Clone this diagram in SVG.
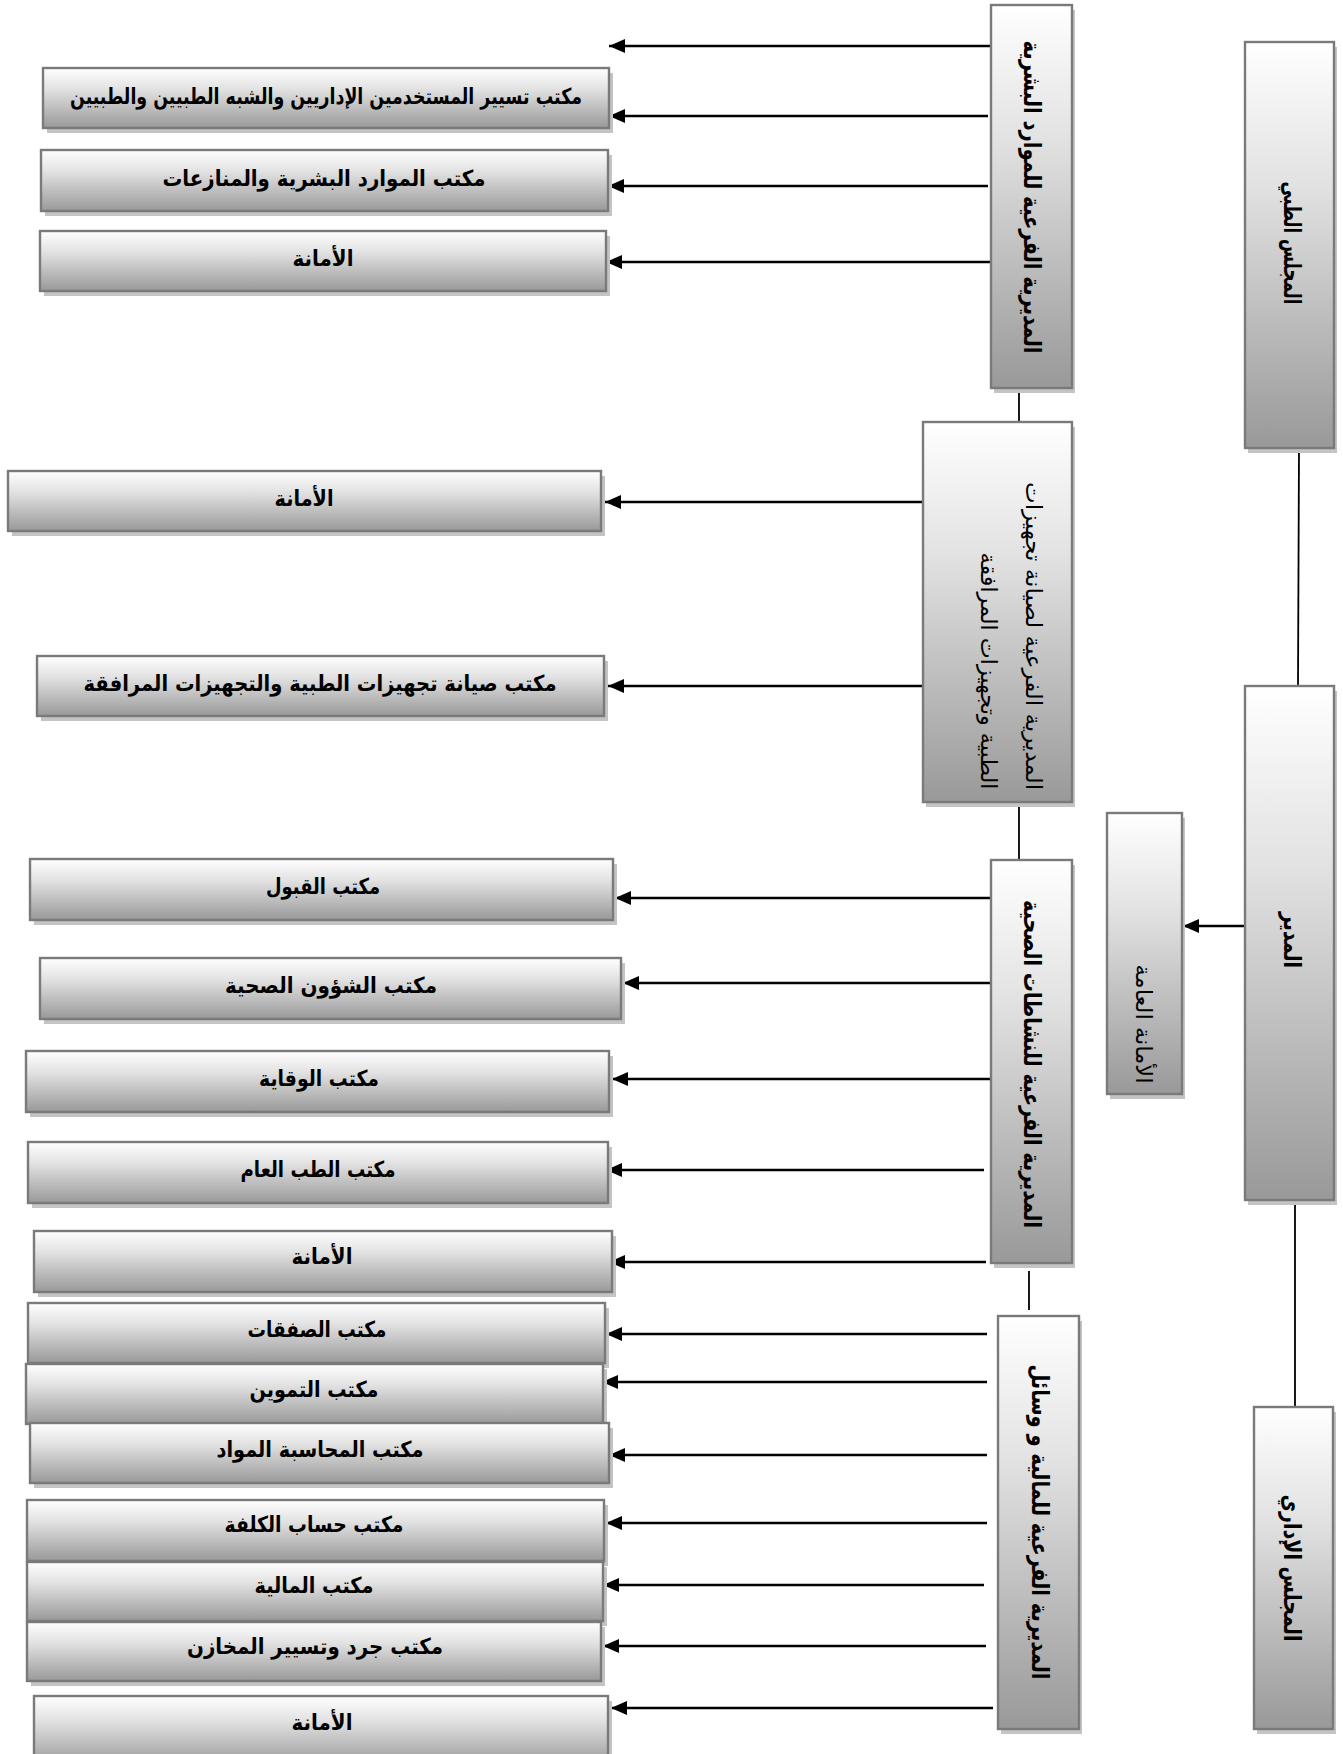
<svg xmlns="http://www.w3.org/2000/svg" width="1343" height="1754" viewBox="0 0 1343 1754">
<defs>
<linearGradient id="g" x1="0" y1="0" x2="0" y2="1">
<stop offset="0" stop-color="#ffffff"/>
<stop offset="0.35" stop-color="#e2e2e2"/>
<stop offset="1" stop-color="#999999"/>
</linearGradient>
<marker id="ah" markerUnits="userSpaceOnUse" markerWidth="16" markerHeight="14" refX="16" refY="7" orient="auto">
<path d="M0,0 L16,7 L0,14 z" fill="#000"/>
</marker>
<style>
.sh{fill:#c4c4c4}
.bx{fill:url(#g);stroke:#7a7a7a;stroke-width:2.4}
.t{font-family:"DejaVu Sans","Liberation Sans",sans-serif;font-size:22px;font-weight:bold;fill:#000;text-anchor:middle;dominant-baseline:central}
.tv{font-family:"DejaVu Sans","Liberation Sans",sans-serif;font-size:24px;font-weight:bold;fill:#000;text-anchor:middle;dominant-baseline:central}
.tr{font-family:"DejaVu Sans","Liberation Sans",sans-serif;font-size:22px;font-weight:normal;fill:#000;dominant-baseline:central}
.ar{stroke:#000;stroke-width:2.4;fill:none;marker-end:url(#ah)}
.ln{stroke:#000;stroke-width:1.8;fill:none}
</style>
</defs>
<rect width="1343" height="1754" fill="#fff"/>

<g id="connectors">
<line class="ar" x1="991" y1="46" x2="609" y2="46"/>
<line class="ar" x1="988" y1="116" x2="609" y2="116"/>
<line class="ar" x1="988" y1="186" x2="608" y2="186"/>
<line class="ar" x1="990" y1="262" x2="606" y2="262"/>
<line class="ar" x1="923" y1="502" x2="605" y2="502"/>
<line class="ar" x1="923" y1="686" x2="608" y2="686"/>
<line class="ar" x1="991" y1="898" x2="615" y2="898"/>
<line class="ar" x1="1000" y1="983" x2="623" y2="983"/>
<line class="ar" x1="991" y1="1079" x2="612" y2="1079"/>
<line class="ar" x1="984" y1="1170" x2="606" y2="1170"/>
<line class="ar" x1="986" y1="1262" x2="609" y2="1262"/>
<line class="ar" x1="987" y1="1334" x2="606" y2="1334"/>
<line class="ar" x1="987" y1="1382" x2="602" y2="1382"/>
<line class="ar" x1="987" y1="1455" x2="609" y2="1455"/>
<line class="ar" x1="987" y1="1523" x2="606" y2="1523"/>
<line class="ar" x1="984" y1="1585" x2="603" y2="1585"/>
<line class="ar" x1="986" y1="1646" x2="603" y2="1646"/>
<line class="ar" x1="993" y1="1708" x2="611" y2="1708"/>
<line class="ar" x1="1246" y1="926" x2="1183" y2="926"/>
<line class="ln" x1="1019" y1="388" x2="1019" y2="422"/>
<line class="ln" x1="1019" y1="802" x2="1019" y2="860"/>
<line class="ln" x1="1029" y1="1271" x2="1029" y2="1310"/>
<line class="ln" x1="1299" y1="448" x2="1298" y2="686"/>
<line class="ln" x1="1295" y1="1200" x2="1295" y2="1407"/>
</g>

<g id="b1"><rect class="sh" x="47" y="73" width="566" height="60"/><rect class="bx" x="43" y="68" width="566" height="60"/><text class="t" x="326" y="96" textLength="512" lengthAdjust="spacingAndGlyphs">مكتب تسيير المستخدمين الإداريين والشبه الطبيين والطبيين</text></g>
<g id="b2"><rect class="sh" x="45" y="155" width="567" height="61"/><rect class="bx" x="41" y="150" width="567" height="61"/><text class="t" x="324" y="178" textLength="323" lengthAdjust="spacingAndGlyphs">مكتب الموارد البشرية والمنازعات</text></g>
<g id="b3"><rect class="sh" x="44" y="236" width="566" height="60"/><rect class="bx" x="40" y="231" width="566" height="60"/><text class="t" x="323" y="258" textLength="61" lengthAdjust="spacingAndGlyphs">الأمانة</text></g>
<g id="b4"><rect class="sh" x="12" y="476" width="593" height="60"/><rect class="bx" x="8" y="471" width="593" height="60"/><text class="t" x="304" y="498" textLength="59" lengthAdjust="spacingAndGlyphs">الأمانة</text></g>
<g id="b5"><rect class="sh" x="41" y="661" width="567" height="60"/><rect class="bx" x="37" y="656" width="567" height="60"/><text class="t" x="320" y="683" textLength="473" lengthAdjust="spacingAndGlyphs">مكتب صيانة تجهيزات الطبية والتجهيزات المرافقة</text></g>
<g id="b6"><rect class="sh" x="34" y="864" width="583" height="61"/><rect class="bx" x="30" y="859" width="583" height="61"/><text class="t" x="323" y="886" textLength="114" lengthAdjust="spacingAndGlyphs">مكتب القبول</text></g>
<g id="b7"><rect class="sh" x="44" y="963" width="581" height="61"/><rect class="bx" x="40" y="958" width="581" height="61"/><text class="t" x="331" y="985" textLength="212" lengthAdjust="spacingAndGlyphs">مكتب الشؤون الصحية</text></g>
<g id="b8"><rect class="sh" x="30" y="1056" width="583" height="61"/><rect class="bx" x="26" y="1051" width="583" height="61"/><text class="t" x="319" y="1078" textLength="120" lengthAdjust="spacingAndGlyphs">مكتب الوقاية</text></g>
<g id="b9"><rect class="sh" x="32" y="1147" width="580" height="61"/><rect class="bx" x="28" y="1142" width="580" height="61"/><text class="t" x="318" y="1169" textLength="155" lengthAdjust="spacingAndGlyphs">مكتب الطب العام</text></g>
<g id="b10"><rect class="sh" x="38" y="1236" width="578" height="61"/><rect class="bx" x="34" y="1231" width="578" height="61"/><text class="t" x="322" y="1256" textLength="61" lengthAdjust="spacingAndGlyphs">الأمانة</text></g>
<g id="b11"><rect class="sh" x="32" y="1308" width="577" height="60"/><rect class="bx" x="28" y="1303" width="577" height="60"/><text class="t" x="317" y="1329" textLength="139" lengthAdjust="spacingAndGlyphs">مكتب الصفقات</text></g>
<g id="b12"><rect class="sh" x="30" y="1369" width="577" height="60"/><rect class="bx" x="26" y="1364" width="577" height="60"/><text class="t" x="314" y="1389" textLength="129" lengthAdjust="spacingAndGlyphs">مكتب التموين</text></g>
<g id="b13"><rect class="sh" x="34" y="1428" width="579" height="60"/><rect class="bx" x="30" y="1423" width="579" height="60"/><text class="t" x="320" y="1449" textLength="207" lengthAdjust="spacingAndGlyphs">مكتب المحاسبة المواد</text></g>
<g id="b14"><rect class="sh" x="31" y="1505" width="577" height="61"/><rect class="bx" x="27" y="1500" width="577" height="61"/><text class="t" x="314" y="1524" textLength="179" lengthAdjust="spacingAndGlyphs">مكتب حساب الكلفة</text></g>
<g id="b15"><rect class="sh" x="31" y="1567" width="576" height="59"/><rect class="bx" x="27" y="1562" width="576" height="59"/><text class="t" x="314" y="1585" textLength="119" lengthAdjust="spacingAndGlyphs">مكتب المالية</text></g>
<g id="b16"><rect class="sh" x="31" y="1627" width="574" height="59"/><rect class="bx" x="27" y="1622" width="574" height="59"/><text class="t" x="315" y="1646" textLength="256" lengthAdjust="spacingAndGlyphs">مكتب جرد وتسيير المخازن</text></g>
<g id="b17"><rect class="sh" x="38" y="1701" width="574" height="70"/><rect class="bx" x="34" y="1696" width="574" height="70"/><text class="t" x="322" y="1722" textLength="61" lengthAdjust="spacingAndGlyphs">الأمانة</text></g>

<g id="d-hr"><rect class="sh" x="994" y="10" width="81" height="383"/><rect class="bx" x="991" y="5" width="81" height="383"/><text class="tv" transform="translate(1032,197) rotate(90)" textLength="313" lengthAdjust="spacingAndGlyphs">المديرية الفرعية للموارد البشرية</text></g>
<g id="d-maint"><rect class="sh" x="926" y="427" width="149" height="380"/><rect class="bx" x="923" y="422" width="149" height="380"/><text class="tr" text-anchor="middle" transform="translate(1033,636) rotate(90)" textLength="308" lengthAdjust="spacingAndGlyphs">المديرية الفرعية لصيانة تجهيزات</text><text class="tr" text-anchor="middle" transform="translate(988,671) rotate(90)" textLength="237" lengthAdjust="spacingAndGlyphs">الطبية وتجهيزات المرافقة</text></g>
<g id="d-health"><rect class="sh" x="994" y="865" width="81" height="403"/><rect class="bx" x="991" y="860" width="81" height="403"/><text class="tv" transform="translate(1032,1064) rotate(90)" textLength="328" lengthAdjust="spacingAndGlyphs">المديرية الفرعية للنشاطات الصحية</text></g>
<g id="d-fin"><rect class="sh" x="1001" y="1321" width="81" height="413"/><rect class="bx" x="998" y="1316" width="81" height="413"/><text class="tv" transform="translate(1040,1522) rotate(90)" textLength="315" lengthAdjust="spacingAndGlyphs">المديرية الفرعية للمالية و وسائل</text></g>
<g id="medical-council"><rect class="sh" x="1248" y="47" width="89" height="406"/><rect class="bx" x="1245" y="42" width="89" height="406"/><text class="tv" transform="translate(1292,243) rotate(90)" textLength="123" lengthAdjust="spacingAndGlyphs">المجلس الطبي</text></g>
<g id="general-secretariat"><rect class="sh" x="1110" y="818" width="75" height="281"/><rect class="bx" x="1107" y="813" width="75" height="281"/><text class="tr" text-anchor="middle" transform="translate(1143,1024) rotate(90)" textLength="119" lengthAdjust="spacingAndGlyphs">الأمانة العامة</text></g>
<g id="director"><rect class="sh" x="1248" y="691" width="89" height="514"/><rect class="bx" x="1245" y="686" width="89" height="514"/><text class="tv" transform="translate(1292,940) rotate(90)" textLength="56" lengthAdjust="spacingAndGlyphs">المدير</text></g>
<g id="admin-council"><rect class="sh" x="1257" y="1412" width="79" height="322"/><rect class="bx" x="1254" y="1407" width="79" height="322"/><text class="tv" transform="translate(1292,1568) rotate(90)" textLength="147" lengthAdjust="spacingAndGlyphs">المجلس الإداري</text></g>
</svg>
